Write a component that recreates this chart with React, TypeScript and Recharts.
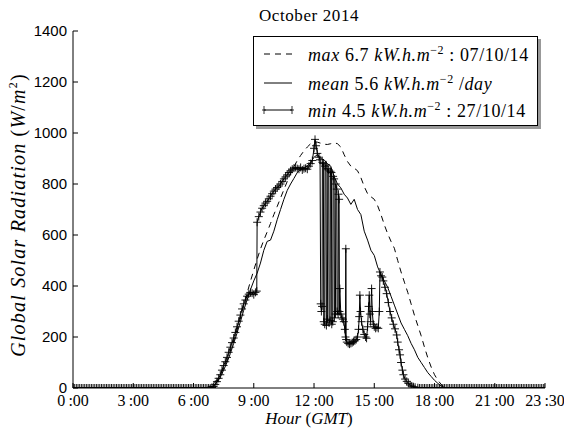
import { LineChart, Line, XAxis, YAxis } from 'recharts'

// time in minutes since 0:00 GMT, radiation in W/m2
const xTicks = [0, 180, 360, 540, 720, 900, 1080, 1260, 1410]
const yTicks = [0, 200, 400, 600, 800, 1000, 1200, 1400]

const maxDay: [number, number][] = [
  [0, 0], [390, 0], [400, 2], [410, 8], [420, 18], [430, 32], [440, 52], [450, 78], [460, 108],
  [470, 145], [480, 185], [490, 228], [500, 275], [510, 325], [520, 372], [530, 418], [540, 462],
  [550, 505], [560, 545], [570, 580], [580, 612], [590, 645], [600, 680], [610, 712], [620, 745],
  [630, 778], [640, 810], [650, 840], [660, 868], [670, 892], [680, 912], [690, 930], [700, 945],
  [710, 958], [720, 966], [730, 964], [740, 960], [750, 956], [760, 955], [770, 958], [780, 962],
  [790, 958], [800, 945], [810, 915], [820, 888], [830, 870], [840, 862], [850, 852], [860, 825],
  [870, 790], [880, 762], [890, 750], [900, 740], [910, 715], [920, 680], [930, 640], [940, 605],
  [950, 575], [960, 548], [970, 500], [980, 455], [990, 415], [1000, 375], [1010, 330], [1020, 285],
  [1030, 245], [1040, 205], [1050, 160], [1060, 118], [1070, 82], [1080, 52], [1090, 30], [1100, 14],
  [1110, 4], [1120, 0], [1410, 0],
]

const meanDay: [number, number][] = [
  [0, 0], [400, 0], [410, 3], [420, 10], [430, 22], [440, 42], [450, 70], [460, 100], [470, 135],
  [480, 175], [490, 215], [500, 260], [510, 305], [520, 345], [530, 385], [540, 420], [550, 450],
  [560, 490], [570, 540], [580, 575], [590, 580], [600, 615], [610, 660], [620, 700], [630, 740],
  [640, 775], [650, 800], [660, 822], [670, 845], [680, 858], [690, 862], [700, 870], [710, 885],
  [720, 905], [730, 915], [740, 900], [750, 895], [760, 880], [770, 870], [780, 830], [790, 800],
  [800, 785], [810, 760], [820, 745], [830, 720], [840, 740], [850, 700], [860, 680], [870, 615],
  [880, 580], [890, 540], [900, 520], [910, 475], [920, 445], [930, 420], [940, 395], [950, 360],
  [960, 325], [970, 290], [980, 255], [990, 230], [1000, 205], [1010, 175], [1020, 150], [1030, 120],
  [1040, 100], [1050, 80], [1060, 60], [1070, 45], [1080, 30], [1090, 18], [1100, 8], [1110, 2],
  [1120, 0], [1410, 0],
]

const minNight: [number, number][] = [
  [0, 0], [5, 0], [10, 0], [15, 0], [20, 0], [25, 0], [30, 0], [35, 0], [40, 0], [45, 0], [50, 0],
  [55, 0], [60, 0], [65, 0], [70, 0], [75, 0], [80, 0], [85, 0], [90, 0], [95, 0], [100, 0],
  [105, 0], [110, 0], [115, 0], [120, 0], [125, 0], [130, 0], [135, 0], [140, 0], [145, 0], [150, 0],
  [155, 0], [160, 0], [165, 0], [170, 0], [175, 0], [180, 0], [185, 0], [190, 0], [195, 0], [200, 0],
  [205, 0], [210, 0], [215, 0], [220, 0], [225, 0], [230, 0], [235, 0], [240, 0], [245, 0], [250, 0],
  [255, 0], [260, 0], [265, 0], [270, 0], [275, 0], [280, 0], [285, 0], [290, 0], [295, 0], [300, 0],
  [305, 0], [310, 0], [315, 0], [320, 0], [325, 0], [330, 0], [335, 0], [340, 0], [345, 0], [350, 0],
  [355, 0], [360, 0], [365, 0], [370, 0], [375, 0], [380, 0], [385, 0], [390, 0], [395, 0], [400, 0],
  [405, 0], [410, 0],
]

const minDay: [number, number][] = [
  [415, 2], [420, 6], [425, 14], [430, 25], [435, 38], [440, 52], [445, 70], [450, 88], [455, 103],
  [460, 120], [465, 140], [470, 160], [475, 178], [480, 196], [485, 218], [490, 240], [495, 262],
  [500, 286], [505, 310], [510, 330], [515, 345], [520, 360], [525, 368], [530, 375], [535, 372],
  [540, 366], [545, 375], [549, 380], [550, 650], [555, 672], [560, 690], [565, 705], [570, 715],
  [575, 725], [580, 732], [585, 742], [590, 752], [595, 762], [600, 772], [605, 780], [610, 786],
  [615, 792], [620, 800], [625, 810], [630, 820], [635, 828], [640, 836], [645, 845], [650, 852],
  [655, 858], [660, 862], [665, 865], [670, 860], [675, 858], [680, 865], [685, 855], [690, 860],
  [695, 862], [700, 858], [705, 870], [710, 880], [715, 892], [720, 940], [723, 975], [726, 950],
  [730, 920], [735, 905], [738, 895], [740, 330], [742, 300], [744, 320], [745, 885], [748, 880],
  [749, 260], [752, 250], [753, 870], [756, 875], [757, 245], [760, 270], [761, 860], [764, 855],
  [765, 255], [768, 265], [769, 850], [772, 845], [773, 250], [776, 260], [777, 830], [780, 820],
  [781, 275], [784, 290], [785, 800], [788, 780], [789, 300], [792, 290], [793, 760], [795, 740],
  [796, 300], [797, 390], [800, 290], [803, 275], [806, 270], [809, 260], [812, 230],
  [814, 200], [815, 546], [816, 190], [818, 180], [822, 175], [826, 172], [830, 175], [834, 178],
  [838, 182], [842, 185], [846, 190], [850, 200], [853, 230], [855, 280], [857, 364], [859, 300],
  [862, 260], [866, 230], [870, 210], [874, 200], [877, 195], [880, 240], [883, 320], [885, 364],
  [887, 290], [889, 260], [892, 390], [894, 300], [897, 250], [900, 240], [904, 234], [908, 238],
  [912, 234], [915, 300], [917, 455], [920, 440], [924, 435], [927, 420], [932, 395], [937, 370],
  [942, 335], [947, 300], [952, 275], [957, 250], [962, 232], [967, 208], [970, 180], [974, 150],
  [977, 130], [980, 100], [984, 70], [987, 52], [992, 35], [997, 26], [1002, 18], [1007, 12],
  [1012, 8], [1017, 5], [1022, 3], [1030, 1],
]

const minEvening: [number, number][] = [
  [1035, 0], [1040, 0], [1045, 0], [1050, 0], [1055, 0], [1060, 0], [1065, 0], [1070, 0], [1075, 0],
  [1080, 0], [1085, 0], [1090, 0], [1095, 0], [1100, 0], [1105, 0], [1110, 0], [1115, 0], [1120, 0],
  [1125, 0], [1130, 0], [1135, 0], [1140, 0], [1145, 0], [1150, 0], [1155, 0], [1160, 0], [1165, 0],
  [1170, 0], [1175, 0], [1180, 0], [1185, 0], [1190, 0], [1195, 0], [1200, 0], [1205, 0], [1210, 0],
  [1215, 0], [1220, 0], [1225, 0], [1230, 0], [1235, 0], [1240, 0], [1245, 0], [1250, 0], [1255, 0],
  [1260, 0], [1265, 0], [1270, 0], [1275, 0], [1280, 0], [1285, 0], [1290, 0], [1295, 0], [1300, 0],
  [1305, 0], [1310, 0], [1315, 0], [1320, 0], [1325, 0], [1330, 0], [1335, 0], [1340, 0], [1345, 0],
  [1350, 0], [1355, 0], [1360, 0], [1365, 0], [1370, 0], [1375, 0], [1380, 0], [1385, 0], [1390, 0],
  [1395, 0], [1400, 0], [1405, 0], [1410, 0],
]

const toRows = (pts: [number, number][]) => pts.map(([t, v]) => ({ t, v }))
const maxData = toRows(maxDay)
const meanData = toRows(meanDay)
const minData = toRows([...minNight, ...minDay, ...minEvening])

const serif = '"Liberation Serif", "DejaVu Serif", serif'
const sans = '"Liberation Sans", Arial, sans-serif'

function fmtHour(t: number) {
  const h = Math.floor(t / 60)
  const m = t % 60
  return `${h}\u2009:${m < 10 ? '0' : ''}${m}`
}

function Cross(props: any) {
  const { cx, cy, index } = props
  if (cx == null || cy == null) return <g key={index} />
  return (
    <path
      key={index}
      d={`M${cx - 4},${cy}H${cx + 4}M${cx},${cy - 4}V${cy + 4}`}
      stroke="#000"
      strokeWidth={0.9}
      fill="none"
    />
  )
}

const noLabel = () => <g />

function Unit() {
  return (
    <>
      <i>kW.h.m</i>
      <sup style={{ fontSize: 12, fontStyle: 'normal' }}>{'\u22122'}</sup>
    </>
  )
}

function Legend() {
  const row = { position: 'absolute' as const, left: 0, height: 28, display: 'flex', alignItems: 'center' }
  return (
    <div
      style={{
        position: 'absolute',
        left: 253,
        top: 36,
        width: 283,
        height: 88,
        border: '1px solid #000',
        background: '#fff',
        boxShadow: '3px 3px 0 #999',
        fontFamily: serif,
        fontSize: 18,
        letterSpacing: 0.6,
        color: '#000',
        whiteSpace: 'nowrap',
      }}
    >
      <div style={{ ...row, top: 3 }}>
        <svg width={46} height={10} style={{ marginLeft: 8 }}>
          <line x1={2} y1={5} x2={30} y2={5} stroke="#000" strokeWidth={1} strokeDasharray="6 5" />
        </svg>
        <span>
          <i>max</i> 6.7 <Unit /> : 07/10/14
        </span>
      </div>
      <div style={{ ...row, top: 32 }}>
        <svg width={46} height={10} style={{ marginLeft: 8 }}>
          <line x1={2} y1={5} x2={30} y2={5} stroke="#000" strokeWidth={1} />
        </svg>
        <span>
          <i>mean</i> 5.6 <Unit /> /<i>day</i>
        </span>
      </div>
      <div style={{ ...row, top: 59 }}>
        <svg width={46} height={10} style={{ marginLeft: 8 }}>
          <line x1={2} y1={5} x2={30} y2={5} stroke="#000" strokeWidth={1} />
          <path d="M0,5H4M2,1V9M28,5H32M30,1V9" stroke="#000" strokeWidth={0.8} />
        </svg>
        <span>
          <i>min</i> 4.5 <Unit /> : 27/10/14
        </span>
      </div>
    </div>
  )
}

export default function App() {
  return (
    <div style={{ position: 'absolute', left: 0, top: 0, width: 564, height: 430, background: '#fff' }}>
      <LineChart width={564} height={430} margin={{ top: 31, right: 19, bottom: 0, left: 0 }}>
        <XAxis
          dataKey="t"
          type="number"
          domain={[0, 1410]}
          allowDataOverflow
          ticks={xTicks}
          tickFormatter={fmtHour}
          interval={0}
          height={42}
          tickSize={-5}
          tickMargin={12}
          stroke="#000"
          tick={{ fill: '#000', fontFamily: serif, fontSize: 16 }}
        />
        <XAxis
          xAxisId="top"
          orientation="top"
          dataKey="t"
          type="number"
          domain={[0, 1410]}
          ticks={xTicks}
          interval={0}
          height={0}
          tickSize={-5}
          stroke="#000"
          tick={noLabel}
        />
        <YAxis
          type="number"
          domain={[0, 1400]}
          allowDataOverflow
          ticks={yTicks}
          interval={0}
          width={73}
          tickSize={-5}
          tickMargin={11}
          stroke="#000"
          tick={{ fill: '#000', fontFamily: sans, fontSize: 15 }}
        />
        <YAxis
          yAxisId="right"
          orientation="right"
          type="number"
          domain={[0, 1400]}
          ticks={yTicks}
          interval={0}
          width={0}
          tickSize={-5}
          stroke="#000"
          tick={noLabel}
        />
        <Line
          data={maxData}
          dataKey="v"
          type="linear"
          stroke="#000"
          strokeWidth={1}
          strokeDasharray="6 5"
          dot={false}
          isAnimationActive={false}
        />
        <Line
          data={meanData}
          dataKey="v"
          type="linear"
          stroke="#000"
          strokeWidth={1}
          dot={false}
          isAnimationActive={false}
        />
        <Line
          data={minData}
          dataKey="v"
          type="linear"
          stroke="#000"
          strokeWidth={1}
          dot={Cross}
          isAnimationActive={false}
        />
      </LineChart>

      <div
        style={{
          position: 'absolute',
          left: 73,
          width: 472,
          top: 6,
          textAlign: 'center',
          fontFamily: serif,
          fontSize: 17,
          letterSpacing: 0.6,
          color: '#000',
        }}
      >
        October 2014
      </div>

      <div
        style={{
          position: 'absolute',
          left: 73,
          width: 472,
          top: 409,
          textAlign: 'center',
          fontFamily: serif,
          fontSize: 17,
          color: '#000',
        }}
      >
        <i>Hour</i> (<i>GMT</i>)
      </div>

      <div
        style={{
          position: 'absolute',
          left: 18,
          top: 215,
          transform: 'translate(-50%, -50%) rotate(-90deg)',
          whiteSpace: 'nowrap',
          fontFamily: serif,
          fontSize: 20,
          letterSpacing: 1.2,
          color: '#000',
        }}
      >
        <i>Global Solar Radiation</i> (<i>W</i>/<i>m</i>
        <sup style={{ fontSize: 12, fontStyle: 'normal' }}>2</sup>)
      </div>

      <Legend />
    </div>
  )
}
